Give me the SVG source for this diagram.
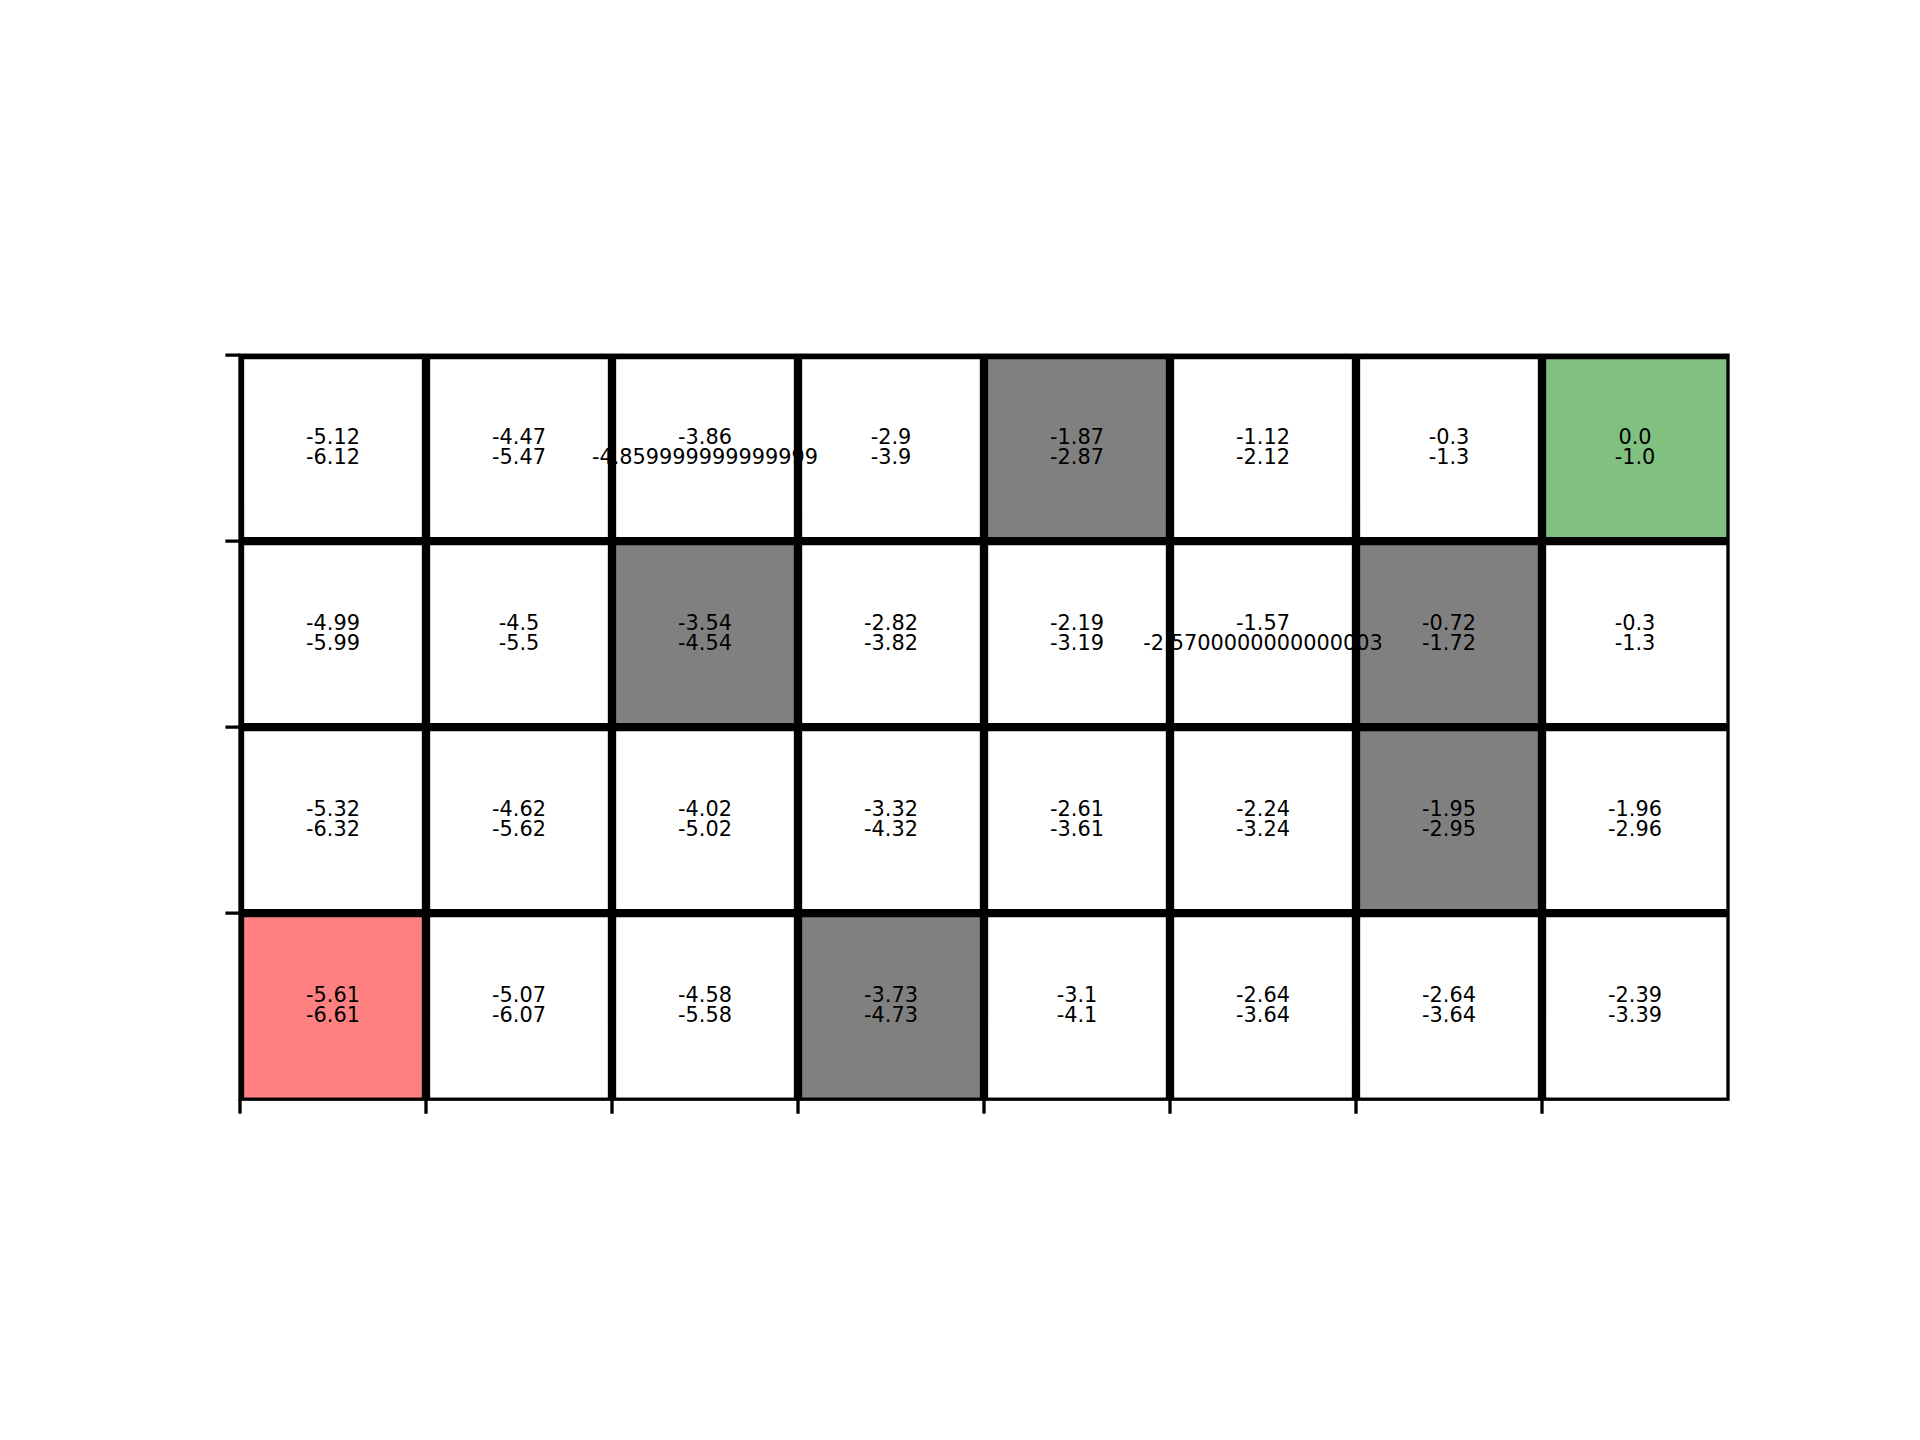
<svg xmlns="http://www.w3.org/2000/svg" width="1920" height="1440" viewBox="0 0 1920 1440">
<style>
.v{font-family:"DejaVu Sans",sans-serif;font-size:20.83px;fill:#000;text-anchor:middle}
.grid{stroke:#000;stroke-width:8.33;fill:none}
.spine{stroke:#000;stroke-width:3.33;fill:none;stroke-linecap:square}
.tick{stroke:#000;stroke-width:3.33}
.gray{fill:#808080}.green{fill:#80c080}.red{fill:#ff8080}
</style>
<defs><clipPath id="ax"><rect x="240" y="355.2" width="1488" height="744"/></clipPath></defs>
<rect width="1920" height="1440" fill="#fff"/>
<g id="fills">
<rect class="gray" x="984" y="355.2" width="186" height="186"/>
<rect class="green" x="1542" y="355.2" width="186" height="186"/>
<rect class="gray" x="612" y="541.2" width="186" height="186"/>
<rect class="gray" x="1356" y="541.2" width="186" height="186"/>
<rect class="gray" x="1356" y="727.2" width="186" height="186"/>
<rect class="red" x="240" y="913.2" width="186" height="186"/>
<rect class="gray" x="798" y="913.2" width="186" height="186"/>
</g>
<g id="row0">
<g id="c00"><text class="v" x="333" y="443.5">-5.12</text><text class="v" x="333" y="463.7">-6.12</text></g>
<g id="c01"><text class="v" x="519" y="443.5">-4.47</text><text class="v" x="519" y="463.7">-5.47</text></g>
<g id="c02"><text class="v" x="705" y="443.5">-3.86</text><text class="v" x="705" y="463.7">-4.859999999999999</text></g>
<g id="c03"><text class="v" x="891" y="443.5">-2.9</text><text class="v" x="891" y="463.7">-3.9</text></g>
<g id="c04"><text class="v" x="1077" y="443.5">-1.87</text><text class="v" x="1077" y="463.7">-2.87</text></g>
<g id="c05"><text class="v" x="1263" y="443.5">-1.12</text><text class="v" x="1263" y="463.7">-2.12</text></g>
<g id="c06"><text class="v" x="1449" y="443.5">-0.3</text><text class="v" x="1449" y="463.7">-1.3</text></g>
<g id="c07"><text class="v" x="1635" y="443.5">0.0</text><text class="v" x="1635" y="463.7">-1.0</text></g>
</g>
<g id="row1">
<g id="c10"><text class="v" x="333" y="629.5">-4.99</text><text class="v" x="333" y="649.7">-5.99</text></g>
<g id="c11"><text class="v" x="519" y="629.5">-4.5</text><text class="v" x="519" y="649.7">-5.5</text></g>
<g id="c12"><text class="v" x="705" y="629.5">-3.54</text><text class="v" x="705" y="649.7">-4.54</text></g>
<g id="c13"><text class="v" x="891" y="629.5">-2.82</text><text class="v" x="891" y="649.7">-3.82</text></g>
<g id="c14"><text class="v" x="1077" y="629.5">-2.19</text><text class="v" x="1077" y="649.7">-3.19</text></g>
<g id="c15"><text class="v" x="1263" y="629.5">-1.57</text><text class="v" x="1263" y="649.7">-2.5700000000000003</text></g>
<g id="c16"><text class="v" x="1449" y="629.5">-0.72</text><text class="v" x="1449" y="649.7">-1.72</text></g>
<g id="c17"><text class="v" x="1635" y="629.5">-0.3</text><text class="v" x="1635" y="649.7">-1.3</text></g>
</g>
<g id="row2">
<g id="c20"><text class="v" x="333" y="815.5">-5.32</text><text class="v" x="333" y="835.7">-6.32</text></g>
<g id="c21"><text class="v" x="519" y="815.5">-4.62</text><text class="v" x="519" y="835.7">-5.62</text></g>
<g id="c22"><text class="v" x="705" y="815.5">-4.02</text><text class="v" x="705" y="835.7">-5.02</text></g>
<g id="c23"><text class="v" x="891" y="815.5">-3.32</text><text class="v" x="891" y="835.7">-4.32</text></g>
<g id="c24"><text class="v" x="1077" y="815.5">-2.61</text><text class="v" x="1077" y="835.7">-3.61</text></g>
<g id="c25"><text class="v" x="1263" y="815.5">-2.24</text><text class="v" x="1263" y="835.7">-3.24</text></g>
<g id="c26"><text class="v" x="1449" y="815.5">-1.95</text><text class="v" x="1449" y="835.7">-2.95</text></g>
<g id="c27"><text class="v" x="1635" y="815.5">-1.96</text><text class="v" x="1635" y="835.7">-2.96</text></g>
</g>
<g id="row3">
<g id="c30"><text class="v" x="333" y="1001.5">-5.61</text><text class="v" x="333" y="1021.7">-6.61</text></g>
<g id="c31"><text class="v" x="519" y="1001.5">-5.07</text><text class="v" x="519" y="1021.7">-6.07</text></g>
<g id="c32"><text class="v" x="705" y="1001.5">-4.58</text><text class="v" x="705" y="1021.7">-5.58</text></g>
<g id="c33"><text class="v" x="891" y="1001.5">-3.73</text><text class="v" x="891" y="1021.7">-4.73</text></g>
<g id="c34"><text class="v" x="1077" y="1001.5">-3.1</text><text class="v" x="1077" y="1021.7">-4.1</text></g>
<g id="c35"><text class="v" x="1263" y="1001.5">-2.64</text><text class="v" x="1263" y="1021.7">-3.64</text></g>
<g id="c36"><text class="v" x="1449" y="1001.5">-2.64</text><text class="v" x="1449" y="1021.7">-3.64</text></g>
<g id="c37"><text class="v" x="1635" y="1001.5">-2.39</text><text class="v" x="1635" y="1021.7">-3.39</text></g>
</g>
<g id="connectors">
<g class="grid" clip-path="url(#ax)">
<path d="M240 355.2V1099.2M426 355.2V1099.2M612 355.2V1099.2M798 355.2V1099.2M984 355.2V1099.2M1170 355.2V1099.2M1356 355.2V1099.2M1542 355.2V1099.2"/>
<path d="M240 355.2H1728M240 541.2H1728M240 727.2H1728M240 913.2H1728"/>
</g>
<rect class="spine" x="240" y="355.2" width="1488" height="744"/>
<path class="tick" d="M240 355.2h-14.6M240 541.2h-14.6M240 727.2h-14.6M240 913.2h-14.6"/>
<path class="tick" d="M240 1099.2v14.6M426 1099.2v14.6M612 1099.2v14.6M798 1099.2v14.6M984 1099.2v14.6M1170 1099.2v14.6M1356 1099.2v14.6M1542 1099.2v14.6"/>
</g>
</svg>
